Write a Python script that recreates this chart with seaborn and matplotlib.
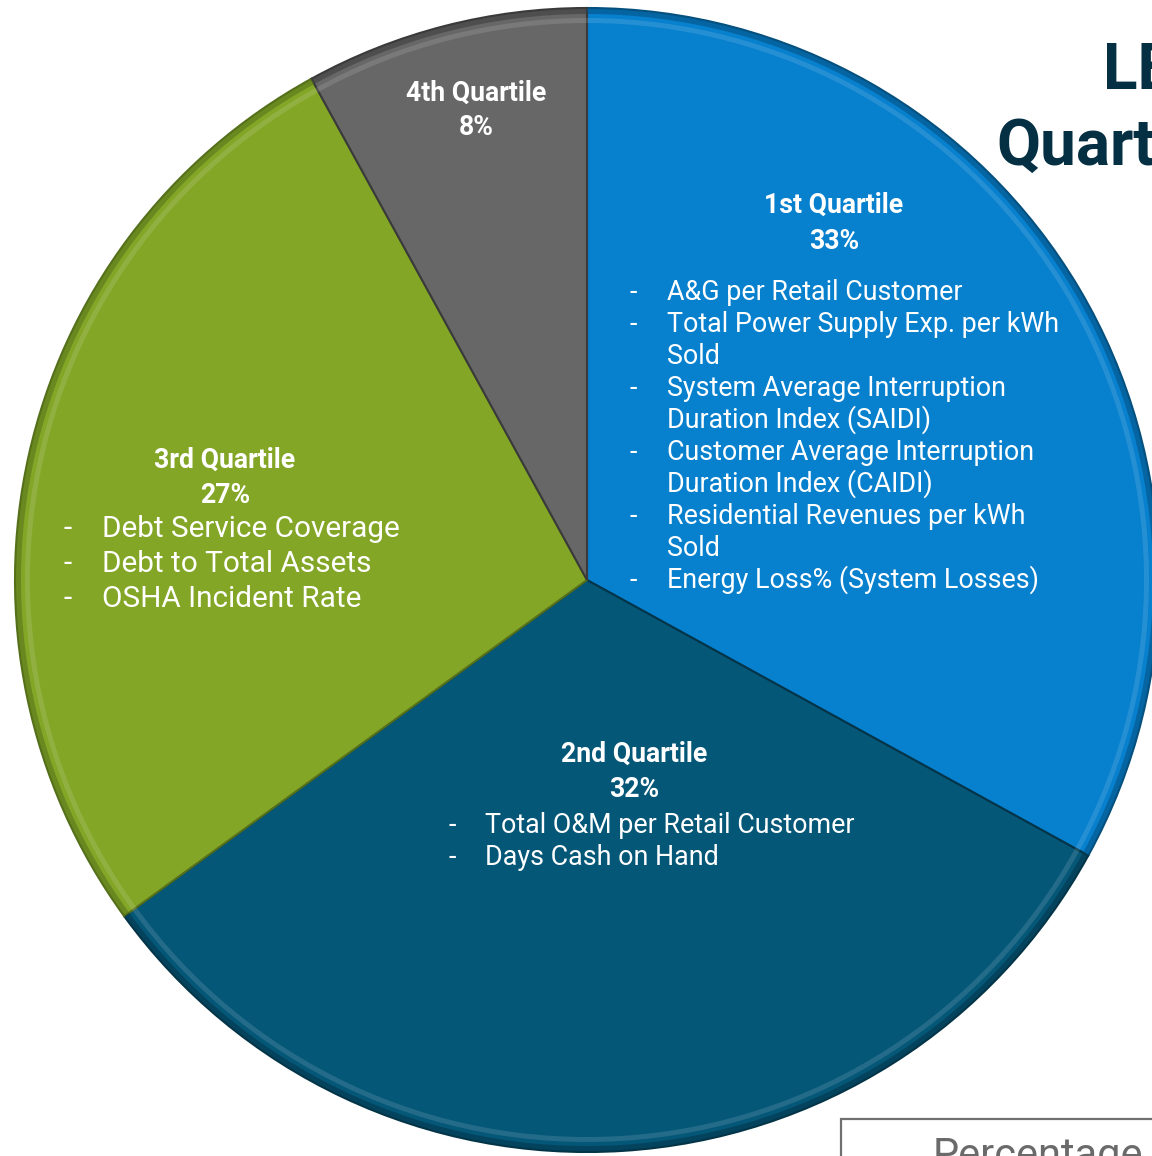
import numpy as np
import matplotlib.pyplot as plt
import seaborn as sns
from matplotlib.patches import Rectangle

# data
quartiles = ["1st Quartile", "2nd Quartile", "3rd Quartile", "4th Quartile"]
shares = [33, 32, 27, 8]
colors = ["#0780CE", "#055778", "#83A627", "#676767"]
edge_colors = ["#04507f", "#033447", "#55701a", "#3a3a3a"]
measures = [
    ["A&G per Retail Customer",
     "Total Power Supply Exp. per kWh", "Sold",
     "System Average Interruption", "Duration Index (SAIDI)",
     "Customer Average Interruption", "Duration Index (CAIDI)",
     "Residential Revenues per kWh", "Sold",
     "Energy Loss% (System Losses)"],
    ["Total O&M per Retail Customer", "Days Cash on Hand"],
    ["Debt Service Coverage", "Debt to Total Assets", "OSHA Incident Rate"],
    [],
]
# which lines start a new bullet
bullet_flags = [
    [1, 1, 0, 1, 0, 1, 0, 1, 0, 1],
    [1, 1],
    [1, 1, 1],
    [],
]

W, H = 1152, 1156
sns.set_theme(style="white")
plt.rcParams['font.family'] = ['Roboto', 'DejaVu Sans']

fig = plt.figure(figsize=(W / 100, H / 100), dpi=100)
ax = fig.add_axes([0, 0, 1, 1])

def Y(y):
    # image row -> data y
    return H - y

cx, cy, r = 587, Y(580), 572

# title, partly hidden off the right edge (as in the reference)
ax.text(1103, Y(89), "LE", fontsize=46, fontweight='bold', color="#052F42",
        va='baseline', ha='left')
ax.text(996, Y(165), "Quartile", fontsize=46, fontweight='bold', color="#052F42",
        va='baseline', ha='left')

# legend box in the bottom right corner
ax.add_patch(Rectangle((841, Y(1180)), 400, 61, fill=False,
                       edgecolor="#6f6f6f", lw=1.6))
ax.text(933, Y(1168), "Percentage", fontsize=30, color="#6a6a6a",
        va='baseline', ha='left')

wedges, _ = ax.pie(shares, colors=colors, startangle=90, counterclock=False,
                   center=(cx, cy), radius=r, frame=True,
                   wedgeprops=dict(linewidth=1.5, edgecolor="#2b2b2b"))
for w, ec in zip(wedges, edge_colors):
    w.set_edgecolor(ec)

# bevel rim
ax.pie(shares, colors=edge_colors, startangle=90, counterclock=False,
       center=(cx, cy), radius=r, frame=True,
       wedgeprops=dict(width=6, linewidth=0, alpha=0.55))
ax.pie(shares, colors=["white"] * 4, startangle=90, counterclock=False,
       center=(cx, cy), radius=r - 10, frame=True,
       wedgeprops=dict(width=5, linewidth=0, alpha=0.12))
ax.set_xlim(0, W)
ax.set_ylim(0, H)
ax.set_aspect('equal')
ax.axis('off')

# label layout: header centre x, header baselines, bullet x, text x, line baselines
head_x = [834, 634, 225, 476]
head_y = [(213, 249), (762, 797), (468, 503), (101, 135)]
bullet_x = [633, 452, 68, 0]
text_x = [667, 485, 102, 0]
line_y = [[300, 332, 364, 396, 428, 460, 492, 524, 556, 588],
          [833, 865],
          [537, 572, 607],
          []]
body_size = [19.4, 19.4, 21.4, 19.4]

for i in range(len(quartiles)):
    ax.text(head_x[i], Y(head_y[i][0]), quartiles[i], fontsize=19.2,
            fontweight='bold', color='white', ha='center', va='baseline')
    ax.text(head_x[i], Y(head_y[i][1]), f"{shares[i]}%", fontsize=19.2,
            fontweight='bold', color='white', ha='center', va='baseline')
    for line, flag, yy in zip(measures[i], bullet_flags[i], line_y[i]):
        if flag:
            ax.text(bullet_x[i], Y(yy), "-", fontsize=body_size[i],
                    color='white', ha='center', va='baseline')
        ax.text(text_x[i], Y(yy), line, fontsize=body_size[i],
                color='white', ha='left', va='baseline')

fig.savefig("out.png", dpi=100)
